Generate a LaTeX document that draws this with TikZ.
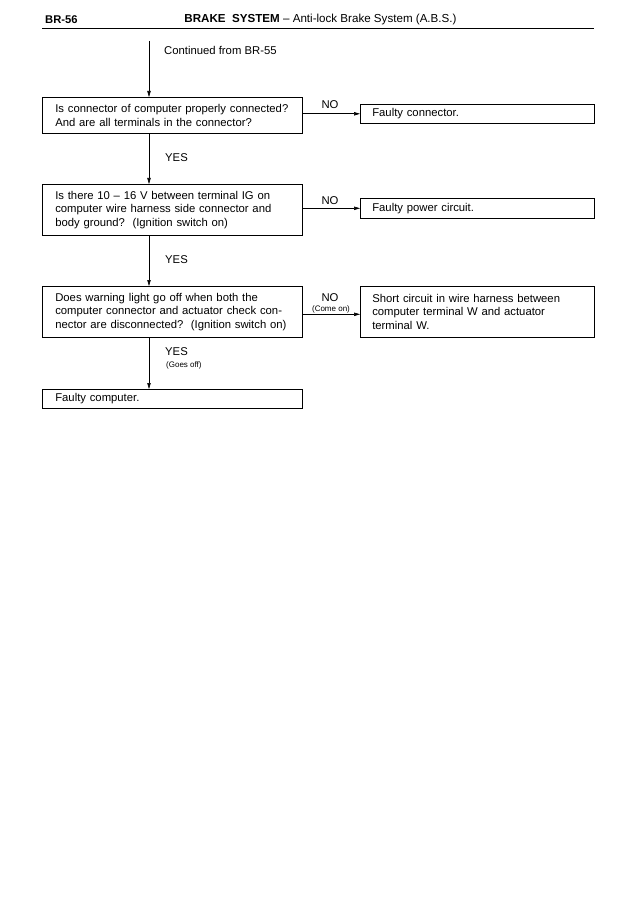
\documentclass[tikz,border=0pt]{standalone}
\usepackage{fontspec}
\setmainfont{Liberation Sans}
\usetikzlibrary{arrows.meta}
\begin{document}
\begin{tikzpicture}[x=1pt,y=-1pt,
  box/.style={draw, line width=0.6pt, anchor=north west, inner xsep=13pt, inner ysep=0pt,
    align=left, font=\fontsize{11.3}{13.5}\selectfont},
  lbox/.style={box, text width=234pt},
  rbox/.style={box, inner xsep=12pt, text width=210pt},
  lab/.style={font=\fontsize{11.3}{13}\selectfont, inner sep=0pt},
  small/.style={font=\fontsize{8}{9}\selectfont, inner sep=0pt},
  arr/.style={line width=0.6pt, -{Triangle[length=6pt,width=3.4pt]}},
]
\fill[white] (0,0) rectangle (640,904);
\useasboundingbox (0,0) rectangle (640,904);

% header
\node[anchor=west, inner sep=0pt, font=\bfseries\fontsize{11.2}{13}\selectfont] (pg) at (45,20) {BR-56};
\node[inner sep=0pt, font=\fontsize{11.6}{13}\selectfont] (ttl) at (320.5,20) {\textbf{BRAKE\ \ SYSTEM} – Anti-lock Brake System (A.B.S.)};
\coordinate (rl) at (42,28.5);
\coordinate (rr) at (594,28.5);
\draw[line width=1.6pt] (rl) -- (rr);

% start
\coordinate (s) at (149,41);
\node[lab, anchor=west] (cont) at (164,50) {Continued from BR-55};

% step 1
\node[lbox, minimum height=36pt] (b1) at (42,97) {Is connector of computer properly connected?\\And are all terminals in the connector?};
\node[rbox, minimum height=19pt] (r1) at (360,104) {Faulty connector.};
\draw[arr] (s) -- (s |- b1.north);
\draw[arr] (b1.east |- r1.west) -- (r1.west);
\node[lab] (no1) at (330,105) {NO};

% step 2
\node[lbox, minimum height=51pt] (b2) at (42,184) {Is there 10 – 16 V between terminal IG on\\computer wire harness side connector and\\body ground?\ \ (Ignition switch on)};
\node[rbox, minimum height=20pt] (r2) at (360,198) {Faulty power circuit.};
\draw[arr] (b1.south -| s) -- (b2.north -| s);
\node[lab, anchor=west] (yes1) at (165,158) {YES};
\draw[arr] (b2.east |- r2.west) -- (r2.west);
\node[lab] (no2) at (330,201) {NO};

% step 3
\node[lbox, minimum height=51pt] (b3) at (42,286) {Does warning light go off when both the\\computer connector and actuator check con-\\nector are disconnected?\ \ (Ignition switch on)};
\node[rbox, minimum height=51pt] (r3) at (360,286) {Short circuit in wire harness between\\computer terminal W and actuator\\terminal W.};
\draw[arr] (b2.south -| s) -- (b3.north -| s);
\node[lab, anchor=west] (yes2) at (165,260) {YES};
\draw[arr] ([yshift=-2.5pt]b3.east) -- ([yshift=-2.5pt]r3.west);
\node[lab] (no3) at (330,298) {NO};
\node[small] (come) at (331,309.5) {(Come on)};

% step 4
\node[lbox, minimum height=19pt] (b4) at (42,389) {Faulty computer.};
\draw[arr] (b3.south -| s) -- (b4.north -| s);
\node[lab, anchor=west] (yes3) at (165,352) {YES};
\node[small, anchor=west] (goes) at (166,365) {(Goes off)};
\end{tikzpicture}
\end{document}
